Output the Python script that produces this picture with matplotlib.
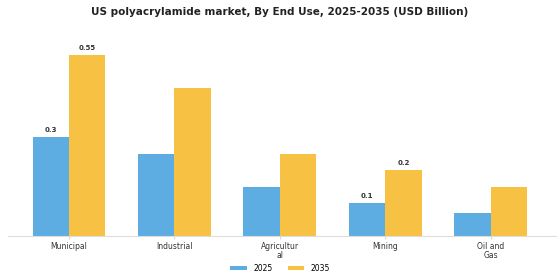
import numpy as np
import matplotlib.pyplot as plt

categories = ["Municipal", "Industrial", "Agricultur\nal", "Mining", "Oil and\nGas"]
values_2025 = [0.30, 0.25, 0.15, 0.10, 0.07]
values_2035 = [0.55, 0.45, 0.25, 0.20, 0.15]
labels_2025 = ["0.3", "", "", "0.1", ""]
labels_2035 = ["0.55", "", "", "0.2", ""]

blue = "#5DADE2"
yellow = "#F7C144"

fig = plt.figure(figsize=(5.6, 2.8), dpi=100)
ax = fig.add_axes([0.014, 0.157, 0.979, 0.70])

x = np.arange(len(categories))
w = 0.346
b1 = ax.bar(x - w / 2, values_2025, w, color=blue, label="2025")
b2 = ax.bar(x + w / 2, values_2035, w, color=yellow, label="2035")

for bars, labs in ((b1, labels_2025), (b2, labels_2035)):
    for rect, lab in zip(bars, labs):
        if lab:
            ax.text(rect.get_x() + rect.get_width() / 2, rect.get_height() + 0.012, lab,
                    ha="center", va="bottom", fontsize=5, fontweight="bold", color="#333333")

ax.set_xlim(-0.58, 4.62)
ax.set_ylim(0, 0.594)
ax.set_xticks(x)
ax.set_xticklabels(categories, fontsize=5.5, color="#333333", linespacing=1.0)
ax.tick_params(axis="x", length=2, width=0.6, color="#cccccc", pad=2)
ax.set_yticks([])
for s in ("top", "right", "left"):
    ax.spines[s].set_visible(False)
ax.spines["bottom"].set_color("#dddddd")
ax.spines["bottom"].set_linewidth(0.8)

fig.legend(handles=[b1, b2], labels=["2025", "2035"], loc="center", bbox_to_anchor=(0.5, 0.042),
           ncol=2, frameon=False, fontsize=5.5, handlelength=2.2, handleheight=0.6,
           columnspacing=2.0, handletextpad=0.8)

fig.text(0.5, 0.957, "US polyacrylamide market, By End Use, 2025-2035 (USD Billion)",
         ha="center", va="center", fontsize=7.5, fontweight="bold", color="#222222")

fig.savefig("out.png", dpi=100)
